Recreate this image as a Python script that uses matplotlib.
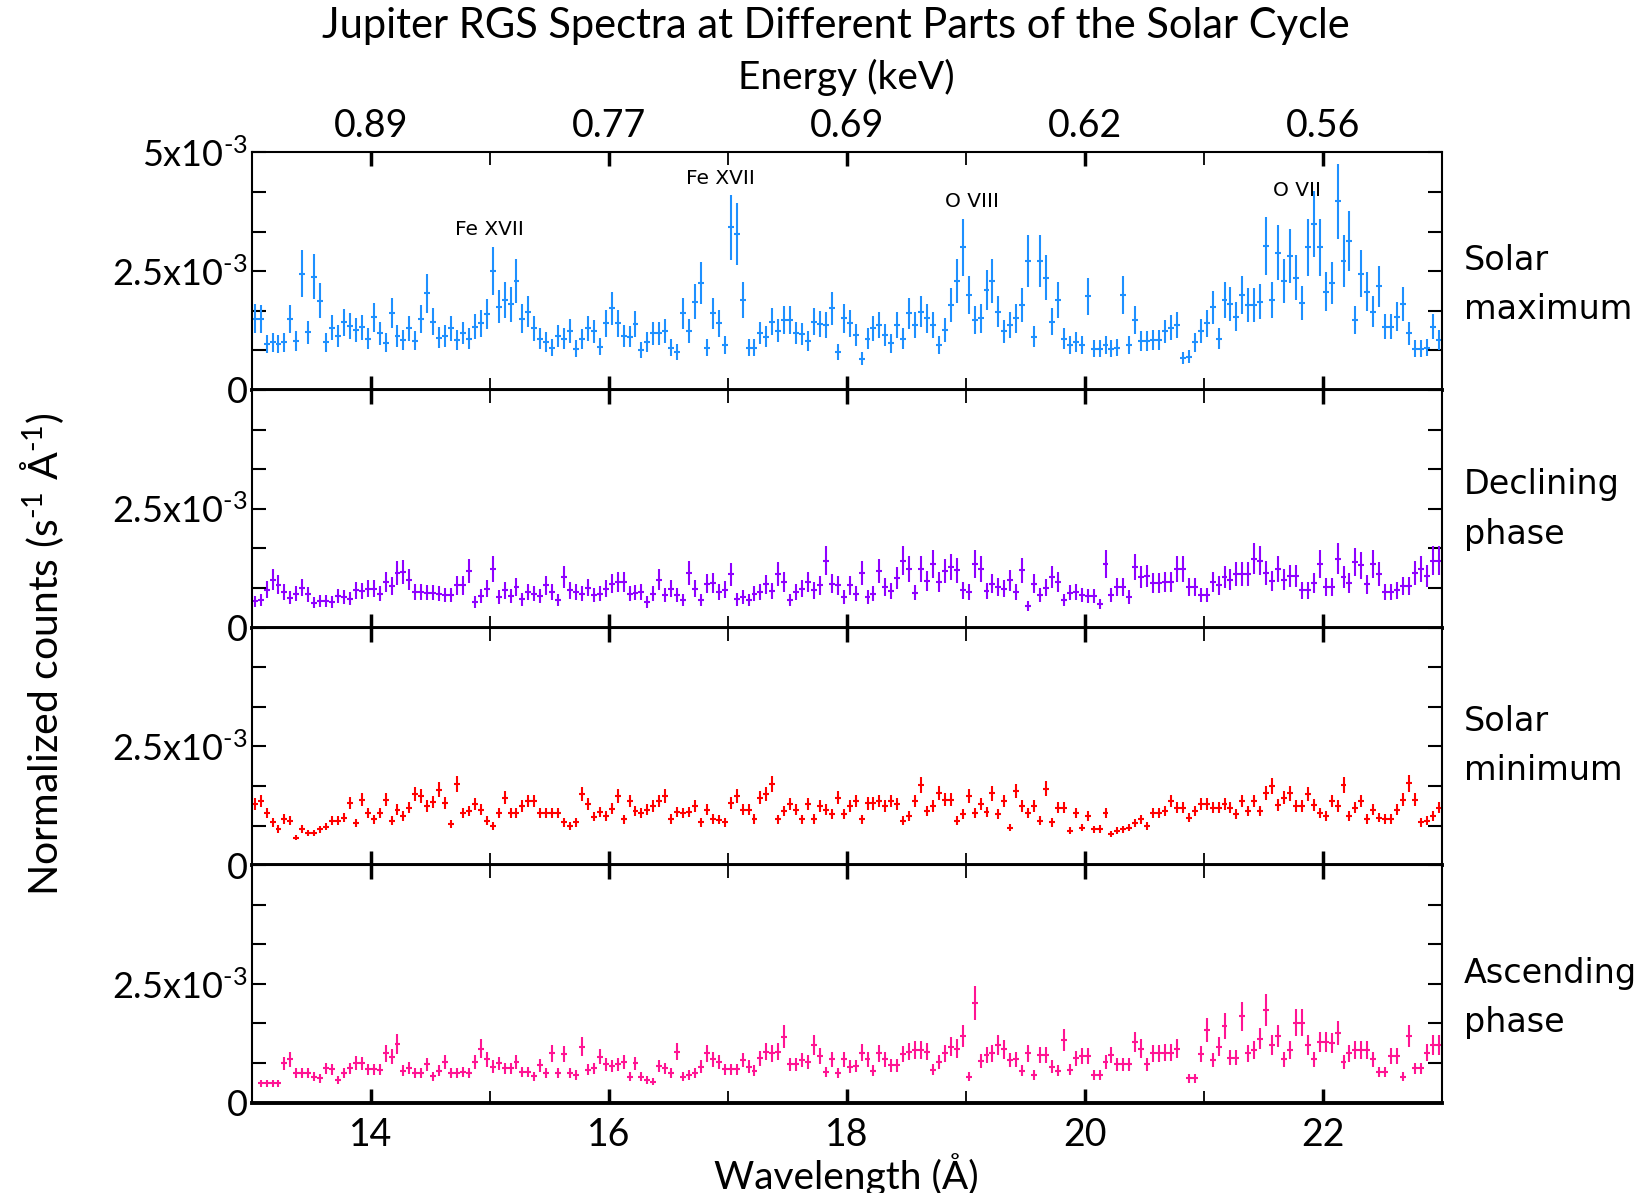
import numpy as np
import matplotlib
matplotlib.use("Agg")
import matplotlib.pyplot as plt
from matplotlib.ticker import FixedLocator, FuncFormatter

nan = np.nan

# normalized counts, units of 1e-3 s^-1 A^-1, bins of 0.05 A from 13 to 23 A
solar_max = [
    1.5, 1.49, 0.96, 1.0, 0.97, 1.0, 1.49, 1.03, 2.45, 1.21,
    2.38, 1.88, 1.0, 1.31, 1.14, 1.42, 1.35, 1.26, 1.32, 1.08,
    1.53, 1.19, 0.99, 1.62, 1.14, 1.05, 1.30, 1.04, 1.49, 2.03,
    1.44, 1.1, 1.14, 1.30, 1.05, 1.2, 1.08, 1.33, 1.40, 1.6,
    2.5, 1.75, 1.9, 1.8, 2.29, 1.5, 1.65, 1.3, 1.08, 1.01,
    0.89, 1.14, 1.08, 1.24, 0.87, 1.07, 1.30, 1.23, 0.91, 1.40,
    1.72, 1.40, 1.14, 1.12, 1.38, 0.84, 1.01, 1.19, 1.19, 1.24,
    0.89, 0.80, 1.61, 1.24, 1.86, 2.25, 0.89, 1.61, 1.40, 0.94,
    3.42, 3.28, 1.9, 0.89, 0.89, 1.2, 1.12, 1.44, 1.25, 1.47,
    1.47, 1.2, 1.17, 1.03, 1.44, 1.38, 1.37, 1.72, 0.80, 1.51,
    1.40, 1.15, 0.66, 1.08, 1.30, 1.37, 1.15, 0.98, 1.37, 1.08,
    1.61, 1.37, 1.65, 1.51, 1.37, 0.94, 1.26, 1.79, 2.29, 3.0,
    2.0, 1.47, 1.51, 2.11, 2.29, 1.65, 1.23, 1.37, 1.51, 1.79,
    2.71, 1.12, 2.71, 2.36, 1.44, 1.90, 1.08, 0.94, 1.01, 0.94,
    1.97, 0.87, 0.87, 0.94, 0.87, 0.89, 2.0, 0.94, 1.47, 1.03,
    1.03, 1.05, 1.05, 1.23, 1.31, 1.37, 0.67, 0.7, 1.0, 1.24,
    1.40, 1.74, 1.08, 1.90, 1.81, 1.54, 2.0, 1.78, 1.78, 1.86,
    3.03, 1.9, 2.89, 2.29, 2.82, 2.36, 1.83, 3.0, 3.49, 3.0,
    2.07, 2.25, 3.97, 2.71, 3.14, 1.47, 2.45, 2.07, 1.65, 2.18,
    1.33, 1.33, 1.54, 1.81, 1.19, 0.87, 0.87, 0.89, 1.33, 1.05,
]

declining = [
    0.55, 0.57, 0.80, 1.01, 0.9, 0.75, 0.63, 0.71, 0.84, 0.70,
    0.52, 0.56, 0.56, 0.54, 0.66, 0.64, 0.61, 0.78, 0.77, 0.82,
    0.82, 0.71, 0.96, 0.87, 1.15, 1.17, 1.01, 0.75, 0.75, 0.73,
    0.73, 0.71, 0.68, 0.68, 0.89, 0.89, 1.19, 0.54, 0.66, 0.82,
    1.24, 0.64, 0.78, 0.66, 0.85, 0.59, 0.75, 0.71, 0.66, 0.89,
    0.75, 0.57, 1.06, 0.78, 0.75, 0.71, 0.84, 0.68, 0.71, 0.82,
    0.92, 0.96, 0.96, 0.71, 0.73, 0.75, 0.54, 0.71, 1.01, 0.68,
    0.82, 0.68, 0.57, 1.15, 0.82, 0.57, 0.92, 0.94, 0.75, 0.80,
    1.12, 0.59, 0.64, 0.57, 0.71, 0.75, 0.91, 0.77, 1.13, 0.96,
    0.57, 0.75, 0.82, 0.96, 0.78, 0.89, 1.41, 0.92, 0.89, 0.64,
    0.89, 0.71, 1.15, 0.64, 0.71, 1.19, 0.85, 0.77, 1.05, 1.41,
    1.24, 0.73, 1.24, 0.98, 1.34, 0.96, 1.19, 1.27, 1.20, 0.78,
    0.75, 1.34, 1.24, 0.77, 0.92, 0.85, 0.82, 0.99, 0.75, 1.20,
    0.45, 0.92, 0.68, 0.84, 1.06, 0.96, 0.57, 0.73, 0.75, 0.68,
    0.66, 0.66, 0.50, 1.34, 0.68, 0.85, 0.85, 0.64, 1.27, 1.06,
    1.08, 0.94, 0.94, 0.96, 0.96, 1.24, 1.24, 0.85, 0.85, 0.68,
    0.68, 0.96, 0.89, 1.06, 1.01, 1.13, 1.13, 1.13, 1.45, 1.41,
    1.15, 0.98, 1.24, 1.01, 1.08, 1.08, 0.78, 0.78, 0.94, 1.34,
    0.85, 0.85, 1.45, 1.06, 0.94, 1.38, 1.31, 0.91, 1.34, 1.13,
    0.75, 0.75, 0.78, 0.87, 0.87, 1.15, 1.24, 1.08, 1.41, 1.41,
]

solar_min = [
    1.28, 1.35, 1.09, 0.90, 0.76, 0.97, 0.93, 0.58, 0.76, 0.68,
    0.68, 0.75, 0.81, 0.93, 0.93, 1.00, 1.31, 0.88, 1.38, 1.1,
    0.96, 1.10, 1.38, 0.93, 1.17, 1.04, 1.21, 1.49, 1.45, 1.24,
    1.33, 1.59, 1.31, 0.86, 1.70, 1.10, 1.14, 1.28, 1.16, 0.93,
    0.82, 1.10, 1.42, 1.10, 1.10, 1.24, 1.35, 1.35, 1.10, 1.09,
    1.09, 1.10, 0.90, 0.82, 0.90, 1.49, 1.28, 1.02, 1.12, 1.03,
    1.19, 1.45, 0.96, 1.35, 1.14, 1.10, 1.17, 1.24, 1.35, 1.45,
    0.97, 1.12, 1.10, 1.12, 1.24, 0.90, 1.16, 0.97, 0.95, 0.90,
    1.31, 1.45, 1.16, 1.17, 0.97, 1.42, 1.49, 1.70, 0.96, 1.14,
    1.28, 1.17, 0.96, 1.28, 0.97, 1.24, 1.17, 1.07, 1.42, 1.07,
    1.24, 1.35, 0.96, 1.30, 1.30, 1.35, 1.24, 1.35, 1.28, 0.93,
    1.03, 1.35, 1.68, 1.14, 1.24, 1.52, 1.38, 1.38, 0.93, 1.07,
    1.45, 1.10, 1.28, 1.12, 1.51, 1.07, 1.35, 0.79, 1.56, 1.24,
    1.10, 1.24, 0.93, 1.61, 0.90, 1.21, 1.21, 0.72, 1.10, 0.79,
    1.04, 0.75, 0.76, 1.09, 0.65, 0.72, 0.75, 0.79, 0.88, 0.96,
    0.83, 1.10, 1.10, 1.14, 1.35, 1.21, 1.21, 1.00, 1.14, 1.28,
    1.28, 1.21, 1.21, 1.28, 1.21, 1.07, 1.35, 1.14, 1.35, 1.14,
    1.52, 1.66, 1.26, 1.42, 1.51, 1.24, 1.24, 1.49, 1.26, 1.10,
    1.03, 1.35, 1.24, 1.68, 1.03, 1.21, 1.35, 0.97, 1.17, 1.00,
    0.97, 0.97, 1.17, 1.38, 1.72, 1.38, 0.90, 0.93, 1.03, 1.21,
]

ascending = [
    nan, 0.41, 0.41, 0.41, 0.41, 0.83, 0.91, 0.63, 0.63, 0.63,
    0.55, 0.51, 0.72, 0.70, 0.48, 0.62, 0.72, 0.84, 0.83, 0.70,
    0.70, 0.69, 1.04, 0.97, 1.23, 0.67, 0.74, 0.62, 0.62, 0.81,
    0.56, 0.67, 0.86, 0.62, 0.62, 0.65, 0.62, 0.86, 1.14, 0.91,
    0.76, 0.83, 0.72, 0.72, 0.86, 0.65, 0.65, 0.56, 0.79, 0.62,
    1.04, 0.62, 1.02, 0.62, 0.58, 1.18, 0.69, 0.72, 0.97, 0.81,
    0.77, 0.81, 0.86, 0.55, 0.83, 0.55, 0.48, 0.44, 0.77, 0.72,
    0.62, 1.07, 0.55, 0.58, 0.62, 0.76, 1.04, 0.91, 0.86, 0.70,
    0.70, 0.70, 0.90, 0.76, 0.67, 0.93, 1.07, 1.04, 1.07, 1.39,
    0.81, 0.81, 0.90, 0.86, 1.21, 0.98, 0.65, 0.91, 0.63, 0.91,
    0.76, 0.77, 1.05, 0.91, 0.67, 1.04, 0.91, 0.79, 0.79, 1.02,
    1.07, 1.11, 1.11, 1.07, 0.69, 0.86, 1.04, 1.18, 1.14, 1.40,
    0.55, 2.10, 0.88, 1.00, 1.04, 1.21, 1.12, 0.90, 0.91, 0.67,
    1.04, 0.58, 1.00, 1.00, 0.76, 0.67, 1.32, 0.69, 0.93, 0.98,
    0.98, 0.58, 0.58, 0.86, 1.00, 0.81, 0.81, 0.81, 1.28, 1.14,
    0.81, 1.04, 1.04, 1.05, 1.05, 1.14, nan, 0.51, 0.51, 1.02,
    1.53, 0.90, 1.18, 1.61, 0.95, 0.95, 1.82, 1.04, 1.11, 1.35,
    1.95, 1.21, 1.40, 0.91, 1.11, 1.68, 1.68, 1.21, 0.91, 1.28,
    1.28, 1.25, 1.47, 0.86, 1.04, 1.11, 1.11, 1.11, 0.91, 0.65,
    0.65, 0.98, 0.98, 0.55, 1.40, 0.72, 0.72, 1.05, 1.21, 1.21,
]

# relative error of each spectrum
rel_err = [0.2, 0.22, 0.1, 0.17]
phase_names = ['Solar\nmaximum', 'Declining\nphase', 'Solar\nminimum', 'Ascending\nphase']
colors = ['#1E90FF', '#8F00FF', '#FF0000', '#FF1493']

lines = ['Fe XVII', 'Fe XVII', 'O VIII', 'O VII']
line_wl = [15.0, 16.94, 19.05, 21.78]
line_y = [3.37e-3, 4.45e-3, 3.97e-3, 4.2e-3]

bin_w = 0.05
wl = np.linspace(13.0 + bin_w / 2, 23.0 - bin_w / 2, 200)

plt.rcParams['font.family'] = ['Lato', 'DejaVu Sans']
plt.rcParams['mathtext.default'] = 'regular'

fig = plt.figure(figsize=(16.42, 11.93), dpi=100)

left, width = 0.1533, 0.7247
top, h = 0.8723, 0.19915
name_y = [0.7611, 0.5729, 0.3747, 0.1635]
step = 5e-3 / 6
hy = '\u2010'  # short hyphen for the exponents

for i, vals in enumerate([solar_max, declining, solar_min, ascending]):
    ax = fig.add_axes([left, top - (i + 1) * h, width, h])
    y = np.array(vals) * 1e-3
    ax.errorbar(wl, y, xerr=bin_w / 2, yerr=y * rel_err[i], fmt='none',
                ecolor=colors[i], elinewidth=1.5)
    ax.set_xlim(13, 23)
    ax.set_ylim(0, 5e-3)

    ax.xaxis.set_major_locator(FixedLocator([14, 16, 18, 20, 22]))
    ax.xaxis.set_minor_locator(FixedLocator([15, 17, 19, 21]))
    ax.yaxis.set_major_locator(FixedLocator([k * step for k in range(7)]))

    def ylab(v, pos, i=i):
        k = int(round(v / step))
        if k == 0:
            return '0'
        if k == 3:
            return '2.5x10$^{' + hy + '3}$'
        if k == 6 and i == 0:
            return '5x10$^{' + hy + '3}$'
        return ''
    ax.yaxis.set_major_formatter(FuncFormatter(ylab))

    ax.tick_params(axis='x', which='major', direction='in', top=True, bottom=True,
                   length=10, width=2.5, labelsize=27, pad=10)
    ax.tick_params(axis='x', which='minor', direction='in', top=True, bottom=True,
                   length=9, width=1.3)
    ax.tick_params(axis='y', direction='in', left=True, right=True,
                   length=10, width=1.5, labelsize=26, pad=3)

    for s in ['left', 'right', 'top']:
        ax.spines[s].set_linewidth(1.5)
    ax.spines['bottom'].set_linewidth(2.8)

    if i == 0:
        ax.tick_params(axis='x', labeltop=True, labelbottom=False, pad=6)
        ax.xaxis.set_major_formatter(FuncFormatter(lambda v, pos: f'{12.398 / v:.2f}'))
        ax.xaxis.set_label_position('top')
        ax.set_xlabel('Energy (keV)', fontsize=28, labelpad=14)
        for name, lx, ly in zip(lines, line_wl, line_y):
            ax.text(lx, ly, name, ha='center', va='center',
                    family='DejaVu Sans', fontsize=14.5)
    elif i == 3:
        ax.set_xlabel('Wavelength (Å)', fontsize=28, labelpad=0)
    else:
        ax.tick_params(axis='x', labelbottom=False)

    fig.text(0.8915, name_y[i], phase_names[i], ha='left', va='center',
             family='DejaVu Sans', fontsize=24, linespacing=1.62)

fig.text(0.509, 0.978, 'Jupiter RGS Spectra at Different Parts of the Solar Cycle',
         ha='center', va='center', fontsize=30)
fig.text(0.0256, 0.452, 'Normalized counts (s$^{' + hy + '1}$ Å$^{' + hy + '1}$)',
         ha='center', va='center', rotation=90, fontsize=29.5)

fig.savefig('out.png', dpi=100)
